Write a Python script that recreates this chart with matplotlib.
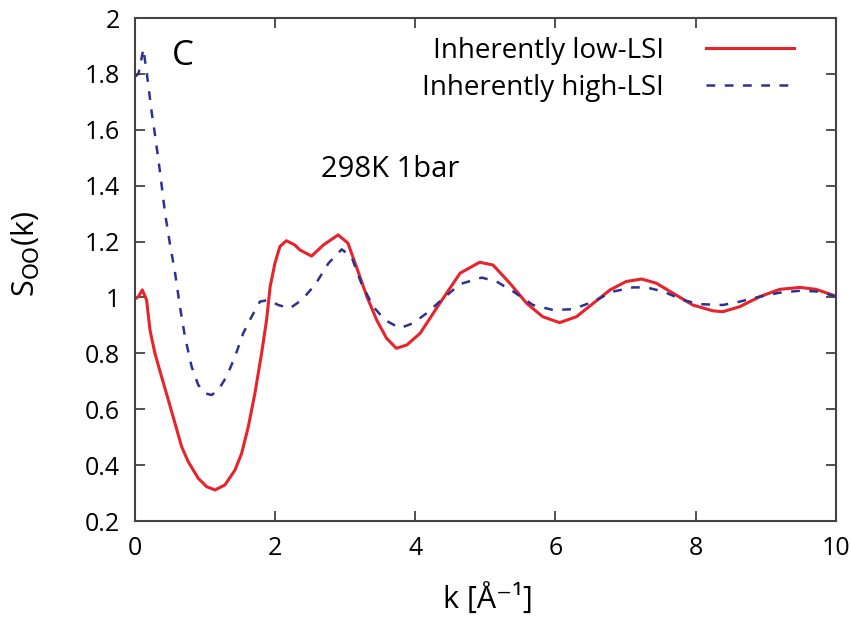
# S_OO(k) for inherently low / high LSI water at 298K 1bar
import numpy as np
import matplotlib.pyplot as plt

plt.rcParams['font.family'] = ['Open Sans', 'DejaVu Sans']

# values
k_low = [0.0, 0.05, 0.105, 0.166, 0.214, 0.285, 0.38, 0.476, 0.571, 0.666, 0.761, 0.903, 1.022,
         1.141, 1.284, 1.427, 1.522, 1.617, 1.712, 1.807, 1.878, 1.93, 1.997, 2.068, 2.16, 2.28,
         2.354, 2.52, 2.69, 2.90, 3.04, 3.16, 3.31, 3.45, 3.59, 3.73, 3.88, 4.07, 4.35, 4.64,
         4.92, 5.11, 5.35, 5.59, 5.82, 6.06, 6.30, 6.54, 6.78, 7.01, 7.23, 7.44, 7.68, 7.96,
         8.25, 8.39, 8.63, 8.92, 9.20, 9.49, 9.72, 10.0]
s_low = [0.995, 1.003, 1.027, 0.991, 0.884, 0.800, 0.716, 0.633, 0.550, 0.466, 0.412, 0.353, 0.323,
         0.311, 0.329, 0.382, 0.442, 0.537, 0.657, 0.800, 0.919, 1.04, 1.122, 1.182, 1.203, 1.188,
         1.170, 1.148, 1.188, 1.224, 1.194, 1.110, 1.003, 0.919, 0.854, 0.818, 0.830, 0.872,
         0.979, 1.087, 1.126, 1.116, 1.051, 0.979, 0.931, 0.910, 0.931, 0.979, 1.027, 1.057,
         1.066, 1.051, 1.015, 0.973, 0.952, 0.949, 0.967, 1.003, 1.029, 1.036, 1.029, 1.005]

k_high = [0.0, 0.05, 0.12, 0.17, 0.24, 0.29, 0.36, 0.43, 0.50, 0.571, 0.642, 0.713, 0.808, 0.903,
          0.999, 1.094, 1.189, 1.308, 1.427, 1.545, 1.664, 1.783, 1.902, 2.045, 2.21, 2.38, 2.57,
          2.76, 2.95, 3.09, 3.23, 3.40, 3.57, 3.78, 3.97, 4.16, 4.40, 4.64, 4.95, 5.16, 5.40,
          5.68, 5.97, 6.25, 6.54, 6.82, 7.11, 7.30, 7.54, 7.82, 8.06, 8.39, 8.63, 8.92, 9.20,
          9.49, 9.77, 10.0]
s_high = [1.79, 1.80, 1.89, 1.80, 1.66, 1.575, 1.444, 1.30, 1.19, 1.09, 0.967, 0.860, 0.753, 0.687,
          0.657, 0.651, 0.669, 0.717, 0.788, 0.872, 0.931, 0.985, 0.991, 0.973, 0.961, 0.991,
          1.045, 1.122, 1.172, 1.146, 1.051, 0.967, 0.919, 0.890, 0.908, 0.943, 0.997, 1.048,
          1.071, 1.057, 1.021, 0.973, 0.955, 0.958, 0.985, 1.021, 1.036, 1.036, 1.021, 0.991,
          0.976, 0.973, 0.985, 1.003, 1.017, 1.024, 1.021, 1.003]

fig = plt.figure(figsize=(8.51, 6.23), dpi=100)
ax = fig.add_axes([0.1586, 0.1637, 0.8234, 0.8074])

ax.plot(k_low, s_low, color='#e8232a', lw=2.2, label='Inherently low-LSI')
ax.plot(k_high, s_high, color='#2e3192', lw=1.8, ls=(0, (3.5, 3.8)), label='Inherently high-LSI')

ax.set_xlim(0, 10)
ax.set_ylim(0.2, 2)
ax.set_xticks(np.arange(0, 11, 2))
ax.set_yticks(np.arange(0.2, 2.01, 0.2))
ax.set_xticklabels(['0', '2', '4', '6', '8', '10'])
ax.set_yticklabels(['0.2', '0.4', '0.6', '0.8', '1', '1.2', '1.4', '1.6', '1.8', '2'])
ax.tick_params(direction='in', length=7, width=1.2, top=True, right=True,
               labelsize=18, pad=11, colors='#333333')
ax.tick_params(labelcolor='black')
for sp in ax.spines.values():
    sp.set_linewidth(1.5)
    sp.set_color('#444444')

ax.set_xlabel('k [Å⁻¹]', fontsize=22)
ax.xaxis.set_label_coords(0.504, -0.125)
ax.set_ylabel('S$_{\\rm OO}$(k)', fontsize=22)
ax.yaxis.set_label_coords(-0.133, 0.531)

ax.text(0.52, 1.832, 'C', fontsize=25, ha='left', va='baseline')
ax.text(2.65, 1.431, '298K 1bar', fontsize=21, ha='left', va='baseline')

ax.legend(loc='upper right', frameon=False, markerfirst=False, fontsize=20,
          handlelength=3.2, handletextpad=1.5, labelspacing=0.32,
          borderaxespad=0.0, bbox_to_anchor=(0.957, 0.985))

fig.savefig('out.png', dpi=100)
